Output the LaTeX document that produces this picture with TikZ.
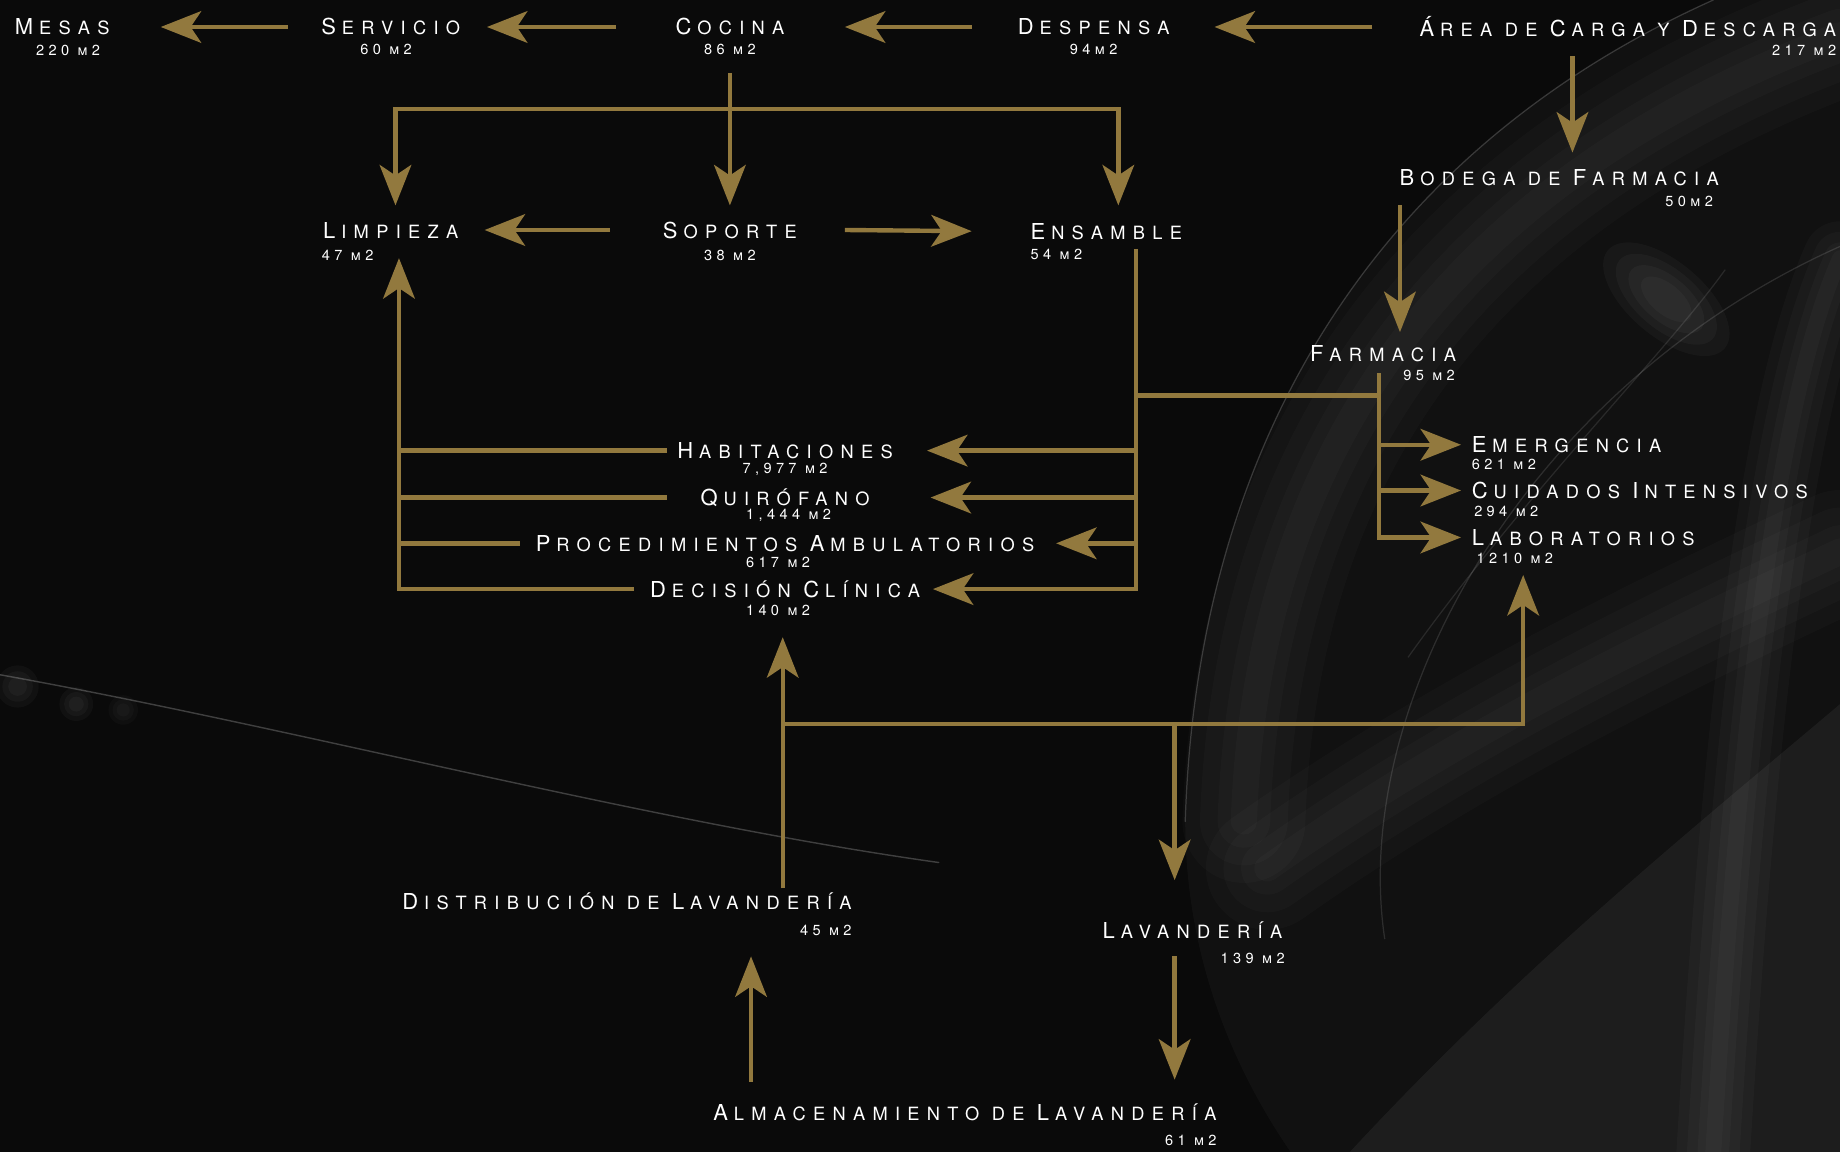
\documentclass[tikz,border=0pt]{standalone}
\usepackage{fontspec}
\usetikzlibrary{arrows.meta}
\newfontfamily\roomfont[LetterSpace=40]{TeX Gyre Heros}
\newfontfamily\areafont[Letters=SmallCaps,LetterSpace=30]{TeX Gyre Heros}
\newcommand\lowcaps[1]{\kern.27em{\fontsize{10.4}{12}\selectfont #1}}
\definecolor{gold}{RGB}{146,121,62}
\definecolor{night}{RGB}{10,10,10}
\tikzset{
	room/.style={text=white, font=\roomfont\fontsize{12.5}{14}\selectfont, inner sep=0pt},
	area/.style={text=white, font=\areafont\fontsize{8.3}{9}\selectfont, inner sep=0pt},
	link/.style={draw=gold, line width=2.5pt},
	flow/.style={link, -{Stealth[length=23pt,width=18pt,inset=6pt]}},
	smoke/.style={white, line cap=round},
}

\begin{document}
\begin{tikzpicture}[x=0.2347mm, y=-0.2347mm]
		%%%%% BACKGROUND %%%%%
		\fill[night] (0,0) rectangle (1568,982);
		\useasboundingbox (0,0) rectangle (1568,982);
		
		\fill[smoke, opacity=0.03] (1010,700) .. controls (1020,380) and (1170,130) .. (1460,0) -- (1568,0) -- (1568,982) -- (1100,982) .. controls (1030,880) and (1010,780) .. cycle;
		\fill[smoke, opacity=0.05] (1150,982) .. controls (1300,820) and (1450,700) .. (1568,600) -- (1568,982) -- cycle;
		\foreach \w in {70,50,30,15}{
			\draw[smoke, opacity=0.02, line width=\w pt] (1060,700) .. controls (1070,400) and (1220,160) .. (1568,30);
			\draw[smoke, opacity=0.02, line width=\w pt] (1080,740) .. controls (1250,620) and (1420,540) .. (1568,470);
			\draw[smoke, opacity=0.025, line width=0.6*\w pt] (1460,982) .. controls (1480,650) and (1510,350) .. (1568,220);
		}
		\foreach \r in {1,0.8,0.6,0.4}{
			\fill[smoke, opacity=0.03, rotate around={-40:(1420,255)}] (1420,255) ellipse ({65*\r} and {32*\r});
		}
		\draw[smoke, opacity=0.18, line width=0.7pt] (1010,700) .. controls (1020,380) and (1170,130) .. (1460,0);
		\draw[smoke, opacity=0.12, line width=0.7pt] (1180,800) .. controls (1150,600) and (1300,330) .. (1568,210);
		\draw[smoke, opacity=0.1, line width=0.7pt] (1200,560) .. controls (1300,420) and (1420,300) .. (1470,230);
		
		\draw[smoke, opacity=0.22, line width=0.8pt] (0,575) .. controls (250,620) and (550,700) .. (800,735);
		\foreach \r in {18,13,8}{
			\fill[smoke, opacity=0.03] (15,585) circle (\r);
			\fill[smoke, opacity=0.03] (65,600) circle (0.8*\r);
			\fill[smoke, opacity=0.025] (105,605) circle (0.7*\r);
		}
		
		%%%%% ROOMS %%%%%
		\node[room] (mesas) at (53,23) {M\lowcaps{ESAS}};
		\node[area] (mesas-a) at (58,43) {220 m2};
		\node[room] (servicio) at (333,23) {S\lowcaps{ERVICIO}};
		\node[area] (servicio-a) at (329,42) {60 m2};
		\node[room] (cocina) at (622,23) {C\lowcaps{OCINA}};
		\node[area] (cocina-a) at (622,42) {86 m2};
		\node[room] (despensa) at (932,23) {D\lowcaps{ESPENSA}};
		\node[area] (despensa-a) at (932,42) {94m2};
		\node[room, anchor=east] (carga) at (1565,23) {Á\lowcaps{REA DE }C\lowcaps{ARGA Y }D\lowcaps{ESCARGA}};
		\node[area, anchor=east] (carga-a) at (1565,43) {217 m2};
		
		\node[room, anchor=east] (bodega) at (1465,151) {B\lowcaps{ODEGA DE }F\lowcaps{ARMACIA}};
		\node[area, anchor=east] (bodega-a) at (1460,172) {50m2};
		\node[room, anchor=east] (farmacia) at (1241,301) {F\lowcaps{ARMACIA}};
		\node[area, anchor=east] (farmacia-a) at (1240,320) {95 m2};
		
		\node[room, anchor=west] (emergencia) at (1254,379) {E\lowcaps{MERGENCIA}};
		\node[area, anchor=west] (emergencia-a) at (1254,396) {621 m2};
		\node[room, anchor=west] (cuidados) at (1254,418) {C\lowcaps{UIDADOS }I\lowcaps{NTENSIVOS}};
		\node[area, anchor=west] (cuidados-a) at (1256,436) {294 m2};
		\node[room, anchor=west] (laboratorios) at (1254,458) {L\lowcaps{ABORATORIOS}};
		\node[area, anchor=west] (laboratorios-a) at (1258,476) {1210 m2};
		
		\node[room] (limpieza) at (333,196) {L\lowcaps{IMPIEZA}};
		\node[area, anchor=west] (limpieza-a) at (274,218) {47 m2};
		\node[room] (soporte) at (622,196) {S\lowcaps{OPORTE}};
		\node[area] (soporte-a) at (622,218) {38 m2};
		\node[room, anchor=west] (ensamble) at (878,197) {E\lowcaps{NSAMBLE}};
		\node[area, anchor=west] (ensamble-a) at (878,217) {54 m2};
		
		\node[room] (habitaciones) at (669,384) {H\lowcaps{ABITACIONES}};
		\node[area] (habitaciones-a) at (669,400) {7,977 m2};
		\node[room] (quirofano) at (669,424) {Q\lowcaps{UIRÓFANO}};
		\node[area] (quirofano-a) at (672,439) {1,444 m2};
		\node[room] (procedimientos) at (669,463) {P\lowcaps{ROCEDIMIENTOS }A\lowcaps{MBULATORIOS}};
		\node[area] (procedimientos-a) at (663,479) {617 m2};
		\node[room] (decision) at (669,502) {D\lowcaps{ECISIÓN }C\lowcaps{LÍNICA}};
		\node[area] (decision-a) at (663,520) {140 m2};
		
		\node[room, anchor=east] (distribucion) at (726,768) {D\lowcaps{ISTRIBUCIÓN DE }L\lowcaps{AVANDERÍA}};
		\node[area, anchor=east] (distribucion-a) at (726,793) {45 m2};
		\node[room, anchor=east] (lavanderia) at (1093,793) {L\lowcaps{AVANDERÍA}};
		\node[area, anchor=east] (lavanderia-a) at (1095,817) {139 m2};
		\node[room, anchor=east] (almacen) at (1037,948) {A\lowcaps{LMACENAMIENTO DE }L\lowcaps{AVANDERÍA}};
		\node[area, anchor=east] (almacen-a) at (1037,972) {61 m2};
		
		%%%%% KITCHEN LINE %%%%%
		\draw[flow] ([shift={(-40,0)}]carga.west) -- ([shift={(103,0)}]despensa.center);
		\draw[flow] ([shift={(-104,0)}]despensa.center) -- ([shift={(98,0)}]cocina.center);
		\draw[flow] ([shift={(-97,0)}]cocina.center) -- ([shift={(82,0)}]servicio.center);
		\draw[flow] ([shift={(-88,0)}]servicio.center) -- ([shift={(84,0)}]mesas.center);
		
		\draw[flow] ([shift={(0,39)}]cocina.center) -- ([shift={(0,-21)}]soporte.center);
		\draw[flow] ([shift={(0,70)}]cocina.center) -| ([shift={(4,-21)}]limpieza.center);
		\draw[flow] ([shift={(0,70)}]cocina.center) -| ([shift={(75,-22)}]ensamble.west);
		\draw[flow] ([shift={(-102,0)}]soporte.center) -- ([shift={(80,0)}]limpieza.center);
		\draw[flow] ([shift={(98,0)}]soporte.center) -- ([shift={(-50,0)}]ensamble.west);
		
		%%%%% PHARMACY %%%%%
		\draw[flow] ([shift={(-225,25)}]carga.east) -- ([shift={(-125,-21)}]bodega.east);
		\draw[flow] ([shift={(-272,24)}]bodega.east) -- ([shift={(-48,-18)}]farmacia.east);
		
		\coordinate (ftop) at ([shift={(-66,17)}]farmacia.east);
		\draw[flow] (ftop) |- ([shift={(-9,0)}]laboratorios.west);
		\draw[flow] (ftop |- emergencia) -- ([shift={(-9,0)}]emergencia.west);
		\draw[flow] (ftop |- cuidados) -- ([shift={(-9,0)}]cuidados.west);
		
		%%%%% WARDS %%%%%
		\coordinate (etop) at ([shift={(90,15)}]ensamble.west);
		\coordinate (fjoin) at (1175,337);
		\draw[flow] (etop) |- ([shift={(126,0)}]decision.center);
		\draw[link] (etop |- fjoin) -- (fjoin);
		\draw[flow] (etop |- habitaciones) -- ([shift={(121,0)}]habitaciones.center);
		\draw[flow] (etop |- quirofano) -- ([shift={(124,0)}]quirofano.center);
		\draw[flow] (etop |- procedimientos) -- ([shift={(231,0)}]procedimientos.center);
		
		\coordinate (ltop) at ([shift={(7,24)}]limpieza.center);
		\draw[flow] ([shift={(-129,0)}]decision.center) -| (ltop);
		\draw[link] ([shift={(-101,0)}]habitaciones.center) -- (ltop |- habitaciones);
		\draw[link] ([shift={(-101,0)}]quirofano.center) -- (ltop |- quirofano);
		\draw[link] ([shift={(-226,0)}]procedimientos.center) -- (ltop |- procedimientos);
		
		%%%%% LAUNDRY %%%%%
		\coordinate (dtop) at ([shift={(-59,-11)}]distribucion.east);
		\coordinate (hub) at (667,617);
		\coordinate (lvin) at ([shift={(-92,-43)}]lavanderia.east);
		\draw[flow] (dtop) -- ([shift={(-2,41)}]decision.center);
		\draw[flow] (hub) -| ([shift={(44,32)}]laboratorios.west);
		\draw[flow] (hub -| lvin) -- (lvin);
		\draw[flow] ([shift={(-397,-26)}]almacen.east) -- ([shift={(-86,47)}]distribucion.east);
		\draw[flow] ([shift={(-92,22)}]lavanderia.east) -- ([shift={(-36,-28)}]almacen.east);
		
\end{tikzpicture}
\end{document}
